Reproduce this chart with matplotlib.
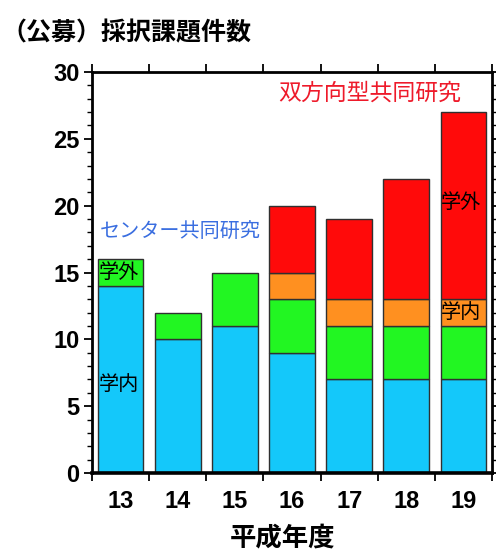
import matplotlib
matplotlib.use("Agg")
import matplotlib.pyplot as plt
from matplotlib.ticker import MultipleLocator, FixedLocator, NullFormatter
import numpy as np

years = ["13", "14", "15", "16", "17", "18", "19"]
center_internal = [14, 10, 11, 9, 7, 7, 7]
center_external = [2, 2, 4, 4, 4, 4, 4]
bidir_internal = [0, 0, 0, 2, 2, 2, 2]
bidir_external = [0, 0, 0, 5, 6, 9, 14]

title = "（公募）採択課題件数"
xlabel = "平成年度"
label_center = "センター共同研究"
label_bidir = "双方向型共同研究"

colors = ["#14c8fa", "#22f622", "#ff9020", "#ff0a0a"]
series = [center_internal, center_external, bidir_internal, bidir_external]

cjk = ["Noto Sans CJK JP", "DejaVu Sans"]
num_font = ["Liberation Sans", "DejaVu Sans"]

fig = plt.figure(figsize=(4.96, 5.54), dpi=100)
ax = fig.add_axes([92/496, 1-473/554, 400/496, 401/554])

x = np.arange(len(years))
bottom = np.zeros(len(years))
for vals, c in zip(series, colors):
    v = np.array(vals, dtype=float)
    mask = v > 0
    ax.bar(x[mask], v[mask], bottom=bottom[mask], width=0.8, color=c,
           edgecolor="#303030", linewidth=1.0, zorder=2)
    bottom += v

ax.set_xlim(-0.5, len(years) - 0.5)
ax.set_ylim(0, 30)

for s in ax.spines.values():
    s.set_linewidth(2.0)
ax.spines["bottom"].set_linewidth(2.6)

ax.yaxis.set_major_locator(MultipleLocator(5))
ax.yaxis.set_minor_locator(MultipleLocator(1))
ax.xaxis.set_major_locator(FixedLocator(np.arange(-0.5, len(years), 1.0)))
ax.xaxis.set_major_formatter(NullFormatter())
ax.set_xticks(x, minor=True)
ax.set_xticklabels(years, minor=True)

ax.tick_params(axis="x", which="major", direction="out", top=True, bottom=True,
               length=6, width=1.3)
ax.tick_params(axis="x", which="minor", length=0, pad=12, labelsize=17)
ax.tick_params(axis="y", which="major", direction="out", left=True, right=True,
               length=6, width=1.3, labelsize=17, pad=3)
ax.tick_params(axis="y", which="minor", direction="out", left=True, right=True,
               length=3.5, width=1.0)

for lab in ax.get_xticklabels(minor=True) + ax.get_yticklabels():
    lab.set_family(num_font)
    lab.set_fontweight("bold")

ax.text(-0.36, 18.0, label_center, color="#3a6ee0", fontsize=14.5,
        family=cjk, va="center", ha="left")
ax.text(2.75, 28.4, label_bidir, color="#ee1a2a", fontsize=16.5,
        family=cjk, va="center", ha="left")
ax.text(-0.38, 15.0, "学外", color="black", fontsize=14.5, family=cjk,
        va="center", ha="left")
ax.text(-0.38, 6.6, "学内", color="black", fontsize=14.5, family=cjk,
        va="center", ha="left")
ax.text(5.6, 20.2, "学外", color="black", fontsize=14.5, family=cjk,
        va="center", ha="left")
ax.text(5.6, 12.0, "学内", color="black", fontsize=14.5, family=cjk,
        va="center", ha="left")

fig.text(1/496, 1-33/554, title, fontsize=18, fontweight="bold", family=cjk,
         va="center", ha="left")
fig.text(283/496, 1-538/554, xlabel, fontsize=19, fontweight="bold", family=cjk,
         va="center", ha="center")

fig.savefig("out.png", dpi=100)
